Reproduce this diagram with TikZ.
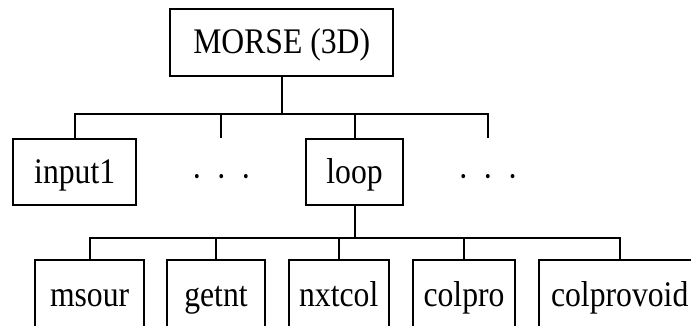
\documentclass[tikz,border=0pt]{standalone}
\usepackage{fontspec}
\setmainfont{Liberation Serif}[FakeStretch=0.88]
\begin{document}
\begin{tikzpicture}[x=1pt,y=-1pt,line width=1.9pt,
  box/.style={draw,inner sep=0pt,minimum height=66pt,text height=24pt,text depth=2pt,font=\fontsize{36}{40}\selectfont},
  plain/.style={inner sep=0pt,text height=24pt,text depth=2pt,font=\fontsize{36}{40}\selectfont}]
\useasboundingbox (0,0) rectangle (691,325);
\clip (0,0) rectangle (691,325);
% top
\node[box,minimum width=223pt,minimum height=67pt] (morse) at (281.7,42.7) {MORSE (3D)};
% middle row
\node[box,minimum width=122.7pt] (input1) at (74.7,172) {input1};
\node[plain] (dots1) at (221.5,177) {·\hspace{14pt}·\hspace{14pt}·};
\node[box,minimum width=97.3pt] (loop) at (354.6,172) {loop};
\node[plain] (dots2) at (488,177) {·\hspace{14pt}·\hspace{14pt}·};
\coordinate (b1) at (281.7,114);
\coordinate (t2) at (221.3,137.5);
\coordinate (t4) at (488,137.5);
\draw (input1.north) |- (t4 |- b1) -- (t4);
\draw (morse.south) -- (morse.south |- b1);
\draw (t2) -- (t2 |- b1);
\draw (loop.north) -- (loop.north |- b1);
% bottom row
\node[box,minimum width=108.7pt,minimum height=72pt] (msour) at (89.6,295.7) {msour};
\node[box,minimum width=98pt,minimum height=72pt] (getnt) at (216,295.7) {getnt};
\node[box,minimum width=100pt,minimum height=72pt] (nxtcol) at (338.7,295.7) {nxtcol};
\node[box,minimum width=102.6pt,minimum height=72pt] (colpro) at (464,295.7) {colpro};
\node[box,minimum width=162pt,minimum height=72pt] (colprovoid) at (619.7,295.7) {colprovoid};
\coordinate (b2) at (354.6,238);
\draw (msour.north) |- (colprovoid.north |- b2) -- (colprovoid.north);
\draw (loop.south) -- (loop.south |- b2);
\draw (getnt.north) -- (getnt.north |- b2);
\draw (nxtcol.north) -- (nxtcol.north |- b2);
\draw (colpro.north) -- (colpro.north |- b2);
\end{tikzpicture}
\end{document}
